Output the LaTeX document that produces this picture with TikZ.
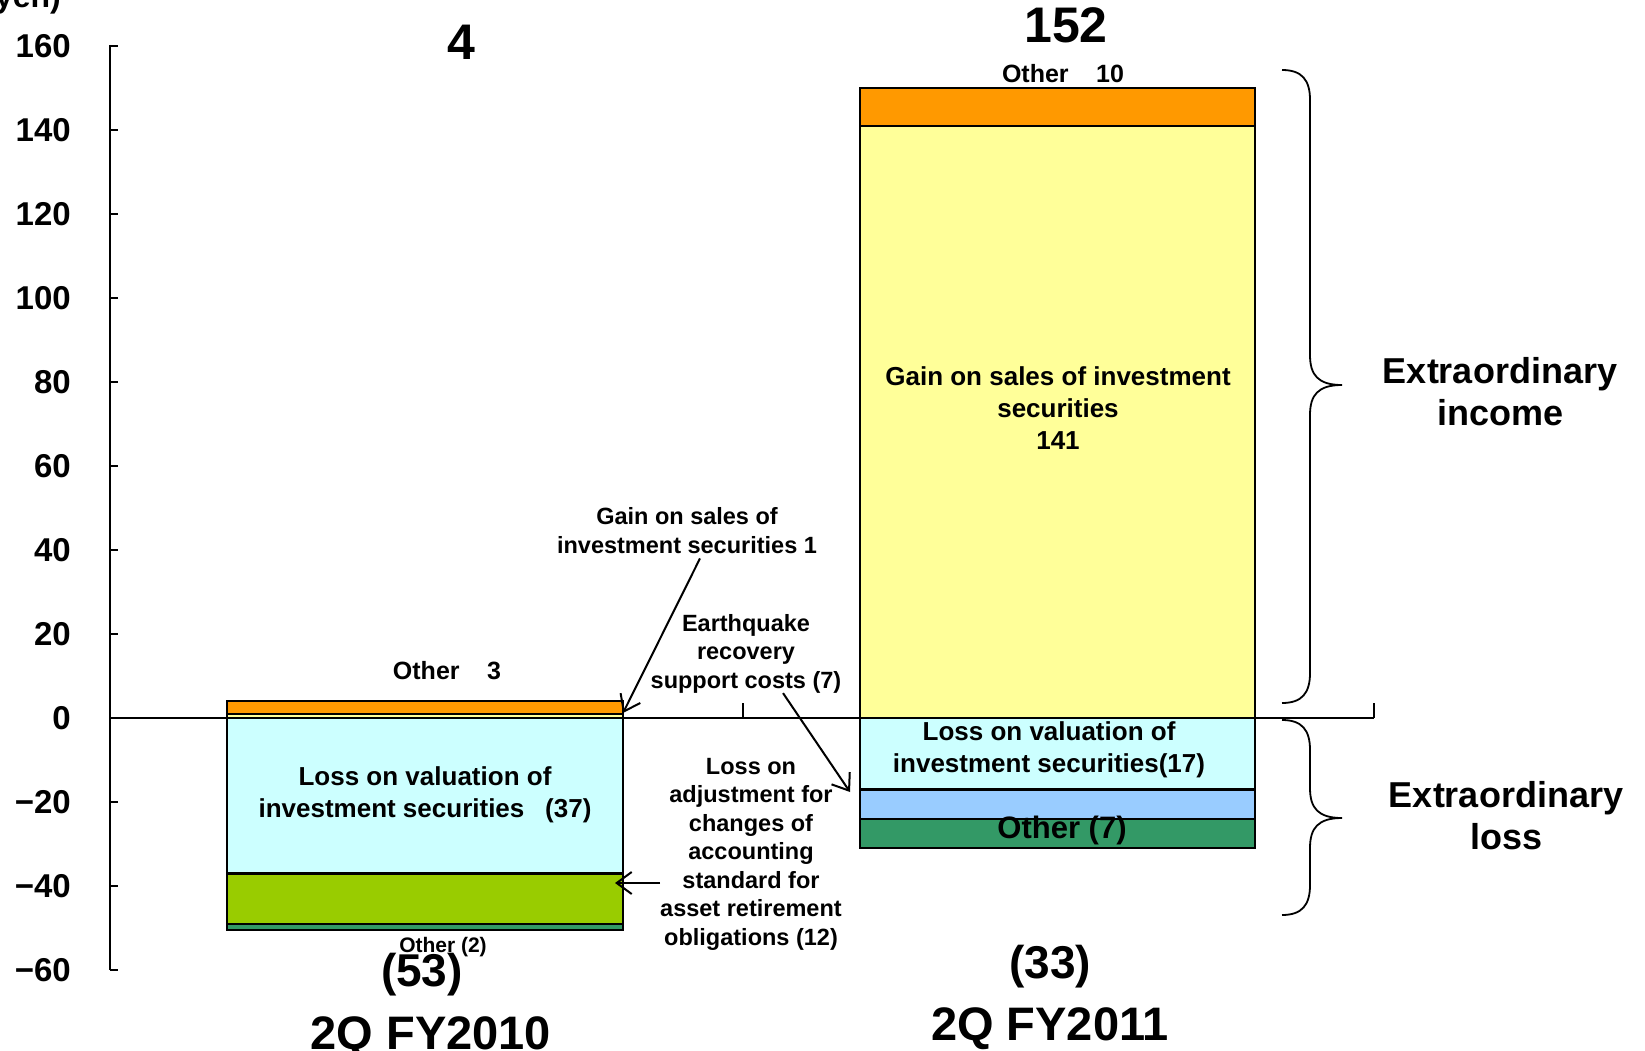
\documentclass[tikz,border=0pt]{standalone}
\usepackage{fontspec}
\setmainfont{Liberation Sans}
\usetikzlibrary{arrows.meta}

\definecolor{segorange}{HTML}{FF9900}
\definecolor{segyellow}{HTML}{FFFF99}
\definecolor{segcyan}{HTML}{CCFFFF}
\definecolor{seggreen}{HTML}{99CC00}
\definecolor{segteal}{HTML}{339966}
\definecolor{segblue}{HTML}{99CCFF}

\newcommand{\fsz}[2]{\fontsize{#1}{#2}\selectfont\bfseries}

\tikzset{
  seg/.style={draw=black, line width=2.5pt},
  axisline/.style={draw=black, line width=2pt},
  brace/.style={draw=black, line width=1.8pt},
  callout/.style={draw=black, line width=2pt,
    -{Straight Barb[length=15pt,width=22pt,line width=2pt]}},
  txt/.style={inner sep=0pt, anchor=base, align=center},
  ticklab/.style={inner sep=0pt, anchor=east, font=\fsz{33}{36}},
  smalllab/.style={txt, font=\fsz{23.5}{28.5}},
  barlab/.style={txt, font=\fsz{26}{32}},
  biglab/.style={txt, font=\fsz{50}{56}},
  catlab/.style={txt, font=\fsz{47}{52}, fill=white, inner sep=10pt},
  sidelab/.style={txt, font=\fsz{36}{42}},
  othlab/.style={txt, font=\fsz{25}{28}},
}

\begin{document}
\begin{tikzpicture}[x=1pt, y=-1pt]
\useasboundingbox (0,0) rectangle (1645,1051);

% unit caption, cut by the top edge
\node[txt, anchor=base east, font=\fsz{32}{36}] (unit) at (61,8) {yen)};

% ---- stacked bars, 2Q FY2010 ----
\filldraw[seg, fill=segorange] (227,701.2) rectangle (623,713.8);
\filldraw[seg, fill=segyellow] (227,713.8) rectangle (623,718);
\filldraw[seg, fill=segcyan]   (227,718)   rectangle (623,873.4);
\filldraw[seg, fill=seggreen]  (227,873.4) rectangle (623,923.8);
\filldraw[seg, fill=segteal]   (227,923.8) rectangle (623,930.1);

% ---- stacked bars, 2Q FY2011 ----
\filldraw[seg, fill=segorange] (860,88)    rectangle (1255,125.8);
\filldraw[seg, fill=segyellow] (860,125.8) rectangle (1255,718);
\filldraw[seg, fill=segcyan]   (860,718)   rectangle (1255,789.4);
\filldraw[seg, fill=segblue]   (860,789.4) rectangle (1255,818.8);
\filldraw[seg, fill=segteal]   (860,818.8) rectangle (1255,848.2);

% ---- axes ----
\draw[axisline] (110,45) -- (110,970);
\foreach \v/\y in {160/46,140/130,120/214,100/298,80/382,60/466,40/550,
                   20/634,0/718,−20/802,−40/886,−60/970} {
  \draw[axisline] (110,\y) -- (118,\y);
  \node[ticklab] (ytick\y) at (71,\y) {\v};
}
\draw[axisline] (110,718) -- (1374,718);
\draw[axisline] (743,718) -- (743,703);
\draw[axisline] (1374,718) -- (1374,703);

% ---- totals and category labels ----
\node[biglab] (tot10) at (461,60) {4};
\node[biglab] (tot11) at (1066,43) {152};
\node[txt, font=\fsz{21}{24}] (oth2) at (443,952) {Other (2)};
\node[txt, font=\fsz{46}{52}] (neg10) at (422,986) {(53)};
\node[txt, font=\fsz{46}{52}] (neg11) at (1050,978) {(33)};
\node[catlab] (cat10) at (431,1049) {2Q FY2010};
\node[catlab] (cat11) at (1050,1040) {2Q FY2011};

% ---- segment labels (base = baseline of the last line) ----
\node[othlab] (oth3) at (447,679) {Other\hspace{1.1em}3};
\node[othlab] (oth10) at (1063,83) {Other\hspace{1.1em}10};
\node[barlab] (gain141) at (1058,449)
  {Gain on sales of investment\\securities\\141};
\node[barlab] (loss37) at (425,817)
  {Loss on valuation of\\investment securities\hspace{0.8em}(37)};
\node[barlab] (loss17) at (1049,772)
  {Loss on valuation of\\investment securities(17)};
\node[txt, font=\fsz{31}{34}] (oth7) at (1062,838) {Other (7)};

% ---- call-outs ----
\node[smalllab] (gainlbl) at (687,553)
  {Gain on sales of\\investment securities 1};
\node[smalllab] (eqlbl) at (746,688)
  {Earthquake\\recovery\\support costs (7)};
\node[smalllab] (adjlbl) at (751,945)
  {Loss on\\adjustment for\\changes of\\accounting\\standard for\\asset retirement\\obligations (12)};

\coordinate (gaintip) at (623,713);
\coordinate (eqtip) at (850,792);
\coordinate (adjtip) at (615,883);

\draw[callout] ([shift={(13,5)}]gainlbl.south) -- (gaintip);
\draw[callout] ([xshift=37pt]eqlbl.south) -- (eqtip);
\draw[callout] (adjlbl.west |- adjtip) -- (adjtip);

% ---- braces and their labels ----
\draw[brace] (1282,70) .. controls (1302,70) and (1310,80) .. (1310,100)
  -- (1310,355) .. controls (1310,375) and (1318,385) .. (1342,385)
  .. controls (1318,385) and (1310,395) .. (1310,415)
  -- (1310,673) .. controls (1310,693) and (1302,703) .. (1282,703);
\draw[brace] (1282,720) .. controls (1302,720) and (1310,730) .. (1310,750)
  -- (1310,788) .. controls (1310,808) and (1318,818) .. (1342,818)
  .. controls (1318,818) and (1310,828) .. (1310,848)
  -- (1310,885) .. controls (1310,905) and (1302,915) .. (1282,915);

\node[sidelab] (incl) at (1500,425) {Extraordinary\\income};
\node[sidelab] (lossl) at (1506,849) {Extraordinary\\loss};
\end{tikzpicture}
\end{document}
